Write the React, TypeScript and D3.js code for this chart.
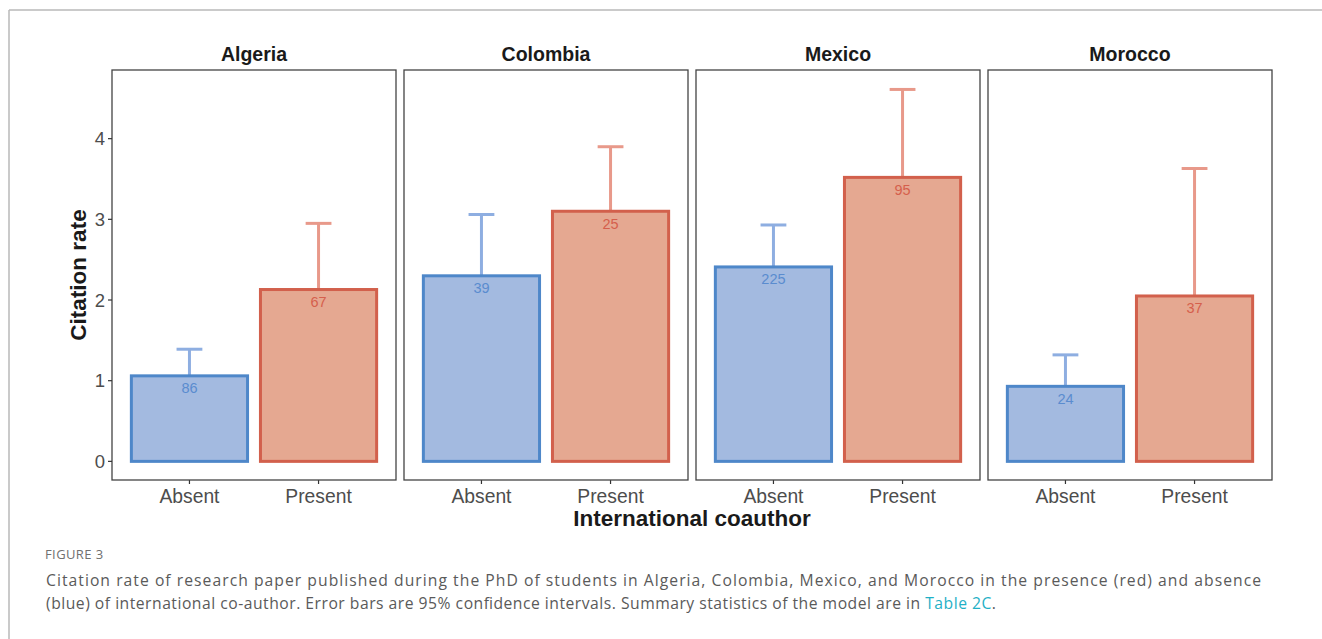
import React from "react";
import * as d3 from "d3";

const countries = ["Algeria", "Colombia", "Mexico", "Morocco"];
const groups = ["Absent", "Present"];
const absentRate = [1.06, 2.3, 2.41, 0.93];
const presentRate = [2.13, 3.1, 3.52, 2.05];
const absentUpper = [1.39, 3.06, 2.93, 1.32];
const presentUpper = [2.95, 3.9, 4.61, 3.63];
const absentN = [86, 39, 225, 24];
const presentN = [67, 25, 95, 37];
const yTicks = [0, 1, 2, 3, 4];

const W = 1322;
const H = 639;
const PT = 70;
const PB = 480;
const PL = 112;
const PR = 1272;

const FILL = ["#a3bae0", "#e5a891"];
const STROKE = ["#4e87c9", "#d2604c"];
const ERR = ["#8eaee1", "#e8998a"];
const LABEL = ["#5a8ccf", "#d55f4c"];

const PLOT_FONT = "'Liberation Sans', Arial, Helvetica, sans-serif";
const CAP_FONT = "'Open Sans', Lato, sans-serif";

export default function App() {
  const y = d3.scaleLinear().domain([-0.231, 4.851]).range([PB, PT]);
  const panel = d3
    .scaleBand<string>()
    .domain(countries)
    .range([PL, PR])
    .paddingInner(8 / 292)
    .paddingOuter(0);
  const bw = panel.bandwidth();
  const xi = d3.scaleLinear().domain([0.4, 2.6]).range([0, bw]);
  const barW = xi(1.45) - xi(1.0);
  const capW = xi(1.1) - xi(1.0);

  const series = [
    { rate: absentRate, upper: absentUpper, n: absentN },
    { rate: presentRate, upper: presentUpper, n: presentN },
  ];

  return (
    <svg
      width={W}
      height={H}
      style={{ position: "absolute", left: 0, top: 0, background: "#fff" }}
    >
      <rect x={0} y={0} width={W} height={H} fill="#fff" />
      <line x1={9} y1={10} x2={W} y2={10} stroke="#b8b8b8" strokeWidth={1.5} />
      <line x1={9} y1={10} x2={9} y2={H} stroke="#b8b8b8" strokeWidth={1.5} />

      {countries.map((c, ci) => {
        const px = panel(c)!;
        return (
          <g key={c}>
            <text
              x={px + bw / 2}
              y={61}
              textAnchor="middle"
              fontFamily={PLOT_FONT}
              fontWeight="bold"
              fontSize={19.5}
              fill="#1a1a1a"
            >
              {c}
            </text>
            {groups.map((g, gi) => {
              const s = series[gi];
              const cx = px + xi(gi + 1);
              const top = y(s.rate[ci]);
              const up = y(s.upper[ci]);
              return (
                <g key={g}>
                  <line x1={cx} x2={cx} y1={top} y2={up} stroke={ERR[gi]} strokeWidth={3} />
                  <line
                    x1={cx - capW}
                    x2={cx + capW}
                    y1={up}
                    y2={up}
                    stroke={ERR[gi]}
                    strokeWidth={3}
                  />
                  <rect
                    x={cx - barW}
                    y={top}
                    width={barW * 2}
                    height={y(0) - top}
                    fill={FILL[gi]}
                    stroke={STROKE[gi]}
                    strokeWidth={3}
                  />
                  <text
                    x={cx}
                    y={top + 17.5}
                    textAnchor="middle"
                    fontFamily={PLOT_FONT}
                    fontSize={14.5}
                    fill={LABEL[gi]}
                  >
                    {s.n[ci]}
                  </text>
                  <line x1={cx} x2={cx} y1={PB} y2={PB + 4} stroke="#333" strokeWidth={1.2} />
                  <text
                    x={cx}
                    y={503}
                    textAnchor="middle"
                    fontFamily={PLOT_FONT}
                    fontSize={19.3}
                    fill="#4d4d4d"
                  >
                    {g}
                  </text>
                </g>
              );
            })}
            <rect
              x={px}
              y={PT}
              width={bw}
              height={PB - PT}
              fill="none"
              stroke="#444"
              strokeWidth={1.3}
            />
          </g>
        );
      })}

      {yTicks.map((t) => (
        <g key={t}>
          <line x1={PL - 4} x2={PL} y1={y(t)} y2={y(t)} stroke="#333" strokeWidth={1.2} />
          <text
            x={PL - 7}
            y={y(t) + 6.5}
            textAnchor="end"
            fontFamily={PLOT_FONT}
            fontSize={18.5}
            fill="#4d4d4d"
          >
            {t}
          </text>
        </g>
      ))}
      <text
        transform={`translate(${86},${(PT + PB) / 2}) rotate(-90)`}
        textAnchor="middle"
        fontFamily={PLOT_FONT}
        fontWeight="bold"
        fontSize={22.5}
        fill="#1a1a1a"
      >
        Citation rate
      </text>
      <text
        x={(PL + PR) / 2}
        y={526}
        textAnchor="middle"
        fontFamily={PLOT_FONT}
        fontWeight="bold"
        fontSize={22.5}
        fill="#1a1a1a"
      >
        International coauthor
      </text>

      <text x={45} y={559} fontFamily={CAP_FONT} fontSize={13} fill="#707070" letterSpacing={0.4}>
        FIGURE 3
      </text>
      <text
        x={46}
        y={586}
        fontFamily={CAP_FONT}
        fontSize={15.7}
        fill="#5a5a5a"
        textLength={1215}
        lengthAdjust="spacing"
      >
        Citation rate of research paper published during the PhD of students in Algeria, Colombia, Mexico, and Morocco in the presence (red) and absence
      </text>
      <text
        x={46}
        y={609}
        fontFamily={CAP_FONT}
        fontSize={15.7}
        fill="#5a5a5a"
        textLength={950}
        lengthAdjust="spacing"
      >
        (blue) of international co-author. Error bars are 95% confidence intervals. Summary statistics of the model are in{" "}
        <tspan fill="#1fb0c6">Table 2C</tspan>.
      </text>
    </svg>
  );
}
